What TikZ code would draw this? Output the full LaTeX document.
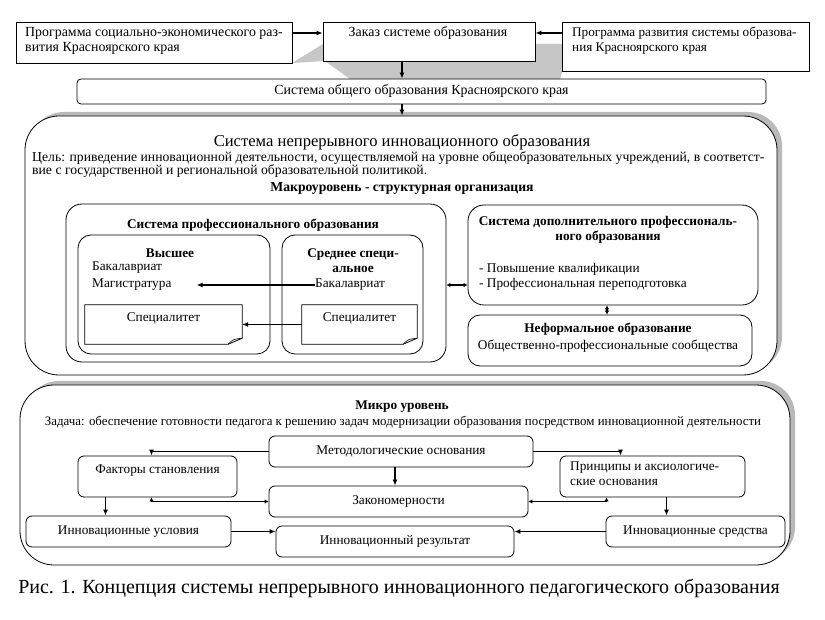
\documentclass[tikz,border=0pt]{standalone}
\usepackage{fontspec}
\setmainfont{Liberation Serif}
\usetikzlibrary{arrows.meta, shadows}

\begin{document}
\begin{tikzpicture}[
    x=1pt, y=-1pt,
    font=\fontsize{13.3}{14.5}\selectfont,
    box/.style={rectangle, draw, line width=0.8pt, fill=white, inner sep=0pt},
    rbox/.style={box, rounded corners=6pt},
    grp/.style={box, rounded corners=16pt},
    bigbox/.style={box, rounded corners=34pt,
      drop shadow={shadow xshift=5pt, shadow yshift=4pt, fill=gray!55, opacity=1}},
    txt/.style={inner sep=0pt},
    toptxt/.style={txt, font=\fontsize{13.9}{15}\selectfont},
    hd/.style={txt, font=\fontsize{13.3}{15}\selectfont\bfseries},
    arr/.style={line width=1.2pt, -{Latex[length=6pt, width=5pt]}},
    darr/.style={line width=1.2pt, {Latex[length=4pt, width=4.5pt]}-{Latex[length=4pt, width=4.5pt]}},
  ]
  \useasboundingbox (0,0) rectangle (825,620);

  % shadows of the top row
  \fill[gray!45] (292,63) -- (323,44) -- (562,44) -- (562,72) -- (560,79) -- (350,79) -- (325,61) -- cycle;

  \node[box, minimum width=276pt, minimum height=41pt] (progA) at (154,42.5) {};
  \node[toptxt, anchor=west, align=left] (progAT) at (25,40.5) {Программа социально-экономического раз-\\вития Красноярского края};
  \node[box, minimum width=212pt, minimum height=39pt] (zakaz) at (429,41.5) {};
  \node[toptxt] (zakazT) at (428,33) {Заказ системе образования};
  \node[box, minimum width=247pt, minimum height=49pt] (progB) at (685.5,46.5) {};
  \node[toptxt, anchor=west, align=left, font=\fontsize{13.2}{15}\selectfont] (progBT) at (572,40.5) {Программа развития системы образова-\\ния Красноярского края};
  \node[rbox, rounded corners=4pt, minimum width=689pt, minimum height=25pt, font=\fontsize{13.9}{15}\selectfont] (sysOb) at (421.5,91.5) {Система общего образования Красноярского края};

  % macro level
  \node[bigbox, minimum width=752pt, minimum height=259pt] (macro) at (401,245.5) {};
  \node[txt, font=\fontsize{16.6}{18}\selectfont] (macroT) at (402,142) {Система непрерывного инновационного образования};
  \node[txt, anchor=north west, align=left, font=\fontsize{13.7}{13}\selectfont] (goal) at (32,151) {Цель: приведение инновационной деятельности, осуществляемой на уровне общеобразовательных учреждений, в соответст-\\вие с государственной и региональной образовательной политикой.};
  \node[hd, font=\fontsize{13.7}{15}\selectfont\bfseries] (macroL) at (402,188) {Макроуровень - структурная организация};

  \node[grp, minimum width=380pt, minimum height=158pt] (prof) at (256,283) {};
  \node[hd] (profT) at (253,225) {Система профессионального образования};
  \node[grp, rounded corners=13pt, minimum width=192pt, minimum height=119pt] (vys) at (174,294.5) {};
  \node[hd] (vysT) at (170,253) {Высшее};
  \node[txt, anchor=west] (bakA) at (92,268) {Бакалавриат};
  \node[txt, anchor=west] (mag) at (92,285) {Магистратура};
  \node[grp, rounded corners=13pt, minimum width=141pt, minimum height=119pt] (sred) at (352.5,294.5) {};
  \node[hd, align=center] (sredT) at (353,261) {Среднее специ-\\альное};
  \node[txt, anchor=west] (bakB) at (315,285) {Бакалавриат};
  \node[txt, minimum width=157pt, minimum height=39pt, text depth=14pt] (specA) at (163.5,324.5) {Специалитет};
  \node[txt, minimum width=115pt, minimum height=39pt, text depth=14pt] (specB) at (359.5,324.5) {Специалитет};
  \foreach \d in {specA, specB} {
    \draw[line width=0.8pt] (\d.north west) -- (\d.north east) -- ([yshift=6pt]\d.south east)
      -- ([xshift=-14pt]\d.south east) -- (\d.south west) -- cycle;
    \draw[line width=0.6pt] ([xshift=-14pt]\d.south east) .. controls ([xshift=-9pt, yshift=5pt]\d.south east) .. ([yshift=6pt]\d.south east);
  }

  \node[grp, minimum width=290pt, minimum height=100pt] (dop) at (613,255) {};
  \node[hd, align=center] (dopT) at (608,230) {Система дополнительного профессиональ-\\ного образования};
  \node[txt, anchor=west, align=left] (dopL) at (479,277) {- Повышение квалификации\\- Профессиональная переподготовка};
  \node[grp, rounded corners=12pt, minimum width=284pt, minimum height=51pt] (inf) at (610,340.5) {};
  \node[hd] (infT) at (608,329) {Неформальное образование};
  \node[txt] (infL) at (608,346) {Общественно-профессиональные сообщества};

  % micro level
  \node[bigbox, minimum width=770pt, minimum height=180pt] (micro) at (405,475) {};
  \node[hd] (microT) at (402,407) {Микро уровень};
  \node[txt, font=\fontsize{12.9}{14}\selectfont] (task) at (403,422) {Задача: обеспечение готовности педагога к решению задач модернизации образования посредством инновационной деятельности};
  \node[rbox, minimum width=264pt, minimum height=31pt] (met) at (401,451.5) {Методологические основания};
  \node[rbox, minimum width=159pt, minimum height=41pt, text depth=14pt] (fak) at (157.5,476.5) {Факторы становления};
  \node[rbox, minimum width=185pt, minimum height=41pt] (prin) at (652.5,476.5) {};
  \node[txt, anchor=west, align=left] (prinT) at (570,473.5) {Принципы и аксиологиче-\\ские основания};
  \node[rbox, minimum width=259pt, minimum height=31pt] (zak) at (398.5,501.5) {Закономерности};
  \node[rbox, minimum width=205pt, minimum height=31pt] (usl) at (128.5,531.5) {Инновационные условия};
  \node[rbox, minimum width=238pt, minimum height=31pt] (res) at (395,541.5) {Инновационный результат};
  \node[rbox, minimum width=179pt, minimum height=31pt] (sr) at (695.5,531.5) {Инновационные средства};

  \node[txt, font=\fontsize{20}{22}\selectfont] (cap) at (399,588) {Рис. 1. Концепция системы непрерывного инновационного педагогического образования};

  % connectors
  \draw[arr] (progA.east |- zakazT) -- (zakaz.west |- zakazT);
  \draw[arr] (progB.west |- zakazT) -- (zakaz.east |- zakazT);
  \draw[arr] ([xshift=-27pt]zakaz.south) -- ([xshift=-27pt]zakaz.south |- sysOb.north);
  \draw[arr] (sysOb.south -| macroT) -- (macro.north -| macroT);
  \draw[arr, shorten >=25pt] (bakB.west) -- (mag.east);
  \draw[arr] (specB.west) -- (specA.east);
  \draw[darr] (prof.east |- bakB) -- (dop.west |- bakB);
  \draw[darr] ([xshift=-6pt]dop.south) -- ([xshift=-6pt]dop.south |- inf.north);
  \draw[arr] (met.west) -| ([xshift=-6pt]fak.north);
  \draw[arr] (met.east) -| ([xshift=-32pt]prin.north);
  \draw[arr] ([xshift=-6pt]met.south) -- ([xshift=-6pt]met.south |- zak.north);
  \draw[arr] ([xshift=-52pt]fak.south) -- ([xshift=-52pt]fak.south |- usl.north);
  \draw[darr] ([xshift=-6pt]fak.south) |- (zak.west);
  \draw[darr] ([xshift=-46pt]prin.south) |- (zak.east);
  \draw[arr] ([xshift=14pt]prin.south) -- ([xshift=14pt]prin.south |- sr.north);
  \draw[arr] (usl.east) -- (usl.east -| res.west);
  \draw[arr] (sr.west) -- (sr.west -| res.east);
\end{tikzpicture}
\end{document}
